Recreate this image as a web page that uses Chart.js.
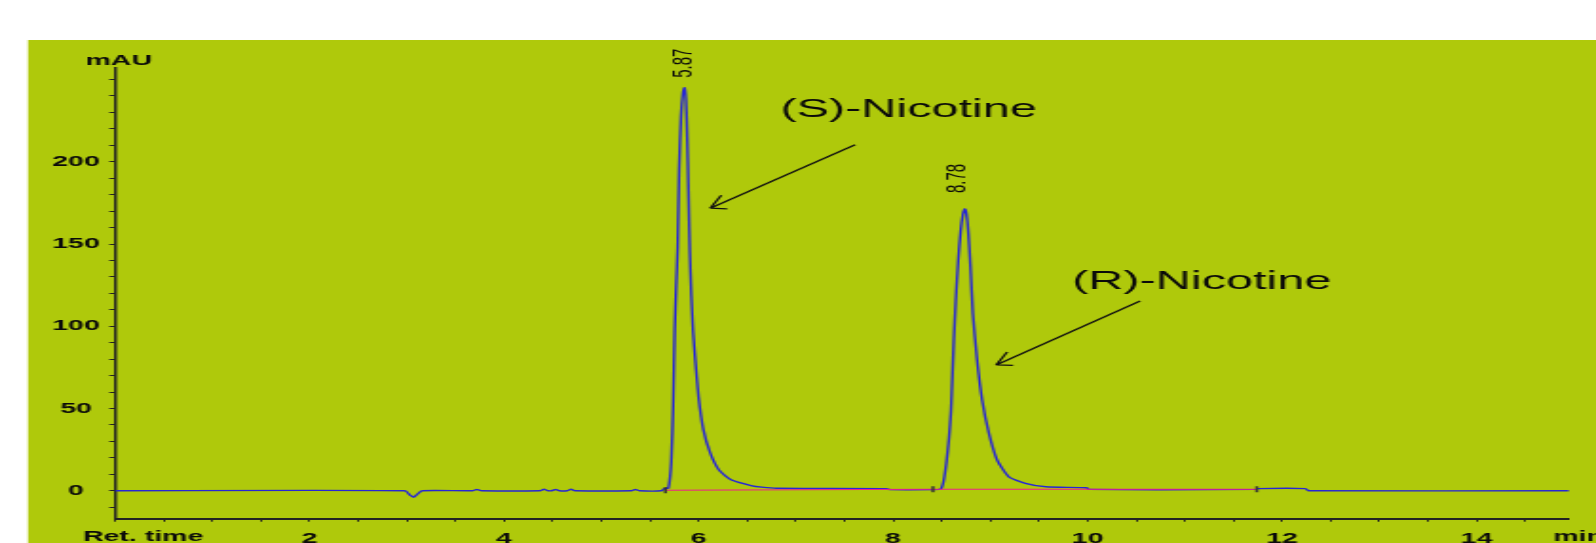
<!DOCTYPE html>
<html>
<head>
<meta charset="utf-8">
<title>Chiral HPLC chromatogram of nicotine</title>
<script src="https://cdn.jsdelivr.net/npm/chart.js@4.4.1/dist/chart.umd.min.js"></script>
<style>
  html, body { margin: 0; padding: 0; background: #fff; overflow: hidden; }
  /* the original trace is a widened screenshot, so draw narrow and stretch */
  #wrap { position: absolute; left: 0; top: 0; width: 840px; height: 543px; transform: scaleX(1.9); transform-origin: 0 0; }
</style>
</head>
<body>
<div id="wrap"><canvas id="chromChart" width="840" height="543"></canvas></div>
<script>
const STRETCH = 1.9;

// detector trace (min, mAU)
const retTimes = [0, 2.98, 3.03, 3.07, 3.11, 3.16, 3.68, 3.72, 3.77, 4.37, 4.41, 4.45, 4.49, 4.53, 4.57,
    4.65, 4.69, 4.73, 5.31, 5.35, 5.39, 5.62, 5.65, 5.69, 5.72, 5.74, 5.755, 5.77, 5.785, 5.80, 5.82,
    5.84, 5.856, 5.87, 5.88, 5.89, 5.9, 5.91, 5.925, 5.945, 5.966, 6.0, 6.05, 6.12, 6.21, 6.34, 6.55,
    6.65, 6.8, 7.93, 7.97, 8.41, 8.49, 8.52, 8.55, 8.575, 8.595, 8.61, 8.625, 8.645, 8.67, 8.695,
    8.718, 8.738, 8.755, 8.775, 8.796, 8.82, 8.864, 8.916, 8.985, 9.07, 9.19, 9.36, 9.57, 9.99, 10.01,
    11.74, 11.75, 12.24, 12.27, 14.95];
const signal = [0, 0, -2.5, -4, -2, 0, 0, 0.8, 0, 0, 0.9, 0, 0, 0.8, 0,
    0, 0.9, 0, 0, 0.8, 0, 0, 1.5, 1.5, 18, 53, 98, 124, 148, 195, 228,
    242, 245, 238, 222, 200, 172, 146, 120, 96, 80, 57, 37, 23, 12.6, 6.5, 3,
    2.2, 1.5, 1.3, 0.7, 0.7, 1, 6, 18, 32, 48, 70, 92, 116, 140, 158,
    168, 171.5, 168, 156, 136, 108, 79.5, 55, 35, 18.7, 8.5, 4.5, 2.4, 1.8, 0.8,
    0.8, 1.3, 1.3, 0, 0];

// integration baseline and its marks
const baseTimes = [5.66, 8.41, 11.74];
const baseSignal = [0.3, 0.9, 0.9];

// peak annotations
const peakRT = ['5.87', '8.78'];
const peakRTx = [5.846, 8.655];
const peakRTy = [251, 181];
const peakNames = ['(S)-Nicotine', '(R)-Nicotine'];
const nameX = [6.84, 9.84];
const nameY = [227, 122.5];
const arrowFrom = [[7.61, 210.3], [10.54, 115.4]];
const arrowTo = [[6.12, 171.8], [9.06, 76.5]];

const FONT = '"Liberation Sans", Arial, sans-serif';

function drawArrow(ctx, x0, y0, x1, y1) {
    // barbs worked out in the stretched (on-screen) space
    const X0 = x0 * STRETCH, X1 = x1 * STRETCH;
    const a = Math.atan2(y0 - y1, X0 - X1);
    const len = 17;
    ctx.beginPath();
    ctx.moveTo(x0, y0);
    ctx.lineTo(x1, y1);
    [0.45, -0.45].forEach(d => {
        ctx.moveTo(x1, y1);
        ctx.lineTo((X1 + len * Math.cos(a + d)) / STRETCH, y1 + len * Math.sin(a + d));
    });
    ctx.stroke();
}

const decorations = {
    id: 'decorations',
    beforeDraw(chart) {
        const ctx = chart.ctx;
        ctx.save();
        ctx.fillStyle = '#afc90b';
        ctx.fillRect(28 / STRETCH, 40, chart.width, chart.height);
        ctx.restore();
    },
    afterDraw(chart) {
        const { ctx, chartArea, scales: { x, y } } = chart;
        ctx.save();
        ctx.fillStyle = '#0a0a0a';
        ctx.font = 'bold 15px ' + FONT;
        ctx.textBaseline = 'alphabetic';
        ctx.textAlign = 'center';
        ctx.fillText('mAU', chartArea.left + 2, chartArea.top - 3);
        ctx.fillText('Ret. time', 75.3, 541);
        ctx.textAlign = 'left';
        ctx.fillText('min', chartArea.right - 8.4, 541);

        // retention time over each peak
        ctx.font = '15px ' + FONT;
        ctx.textBaseline = 'middle';
        peakRT.forEach((txt, i) => {
            ctx.save();
            ctx.translate(x.getPixelForValue(peakRTx[i]), y.getPixelForValue(peakRTy[i]));
            ctx.rotate(-Math.PI / 2);
            ctx.fillText(txt, 0, 0);
            ctx.restore();
        });

        // compound names with arrows
        ctx.font = '25.6px ' + FONT;
        ctx.textBaseline = 'alphabetic';
        ctx.strokeStyle = '#111';
        ctx.lineWidth = 1.3;
        peakNames.forEach((txt, i) => {
            ctx.fillText(txt, x.getPixelForValue(nameX[i]), y.getPixelForValue(nameY[i]));
            drawArrow(ctx,
                x.getPixelForValue(arrowFrom[i][0]), y.getPixelForValue(arrowFrom[i][1]),
                x.getPixelForValue(arrowTo[i][0]), y.getPixelForValue(arrowTo[i][1]));
        });
        ctx.restore();
    }
};

const traceData = retTimes.map((t, i) => ({ x: t, y: signal[i] }));
const baseData = baseTimes.map((t, i) => ({ x: t, y: baseSignal[i] }));

const ctx = document.getElementById('chromChart').getContext('2d');
const chart = new Chart(ctx, {
    type: 'line',
    data: {
        datasets: [{
            label: 'marks',
            data: baseData,
            showLine: false,
            pointStyle: 'line',
            rotation: 90,
            pointRadius: 3,
            borderColor: '#333',
            borderWidth: 1.5
        }, {
            label: 'baseline',
            data: baseData,
            borderColor: '#f0208c',
            borderWidth: 1.1,
            pointRadius: 0,
            tension: 0
        }, {
            label: 'signal',
            data: traceData,
            borderColor: '#2626d6',
            borderWidth: 1.4,
            pointRadius: 0,
            tension: 0.2
        }]
    },
    options: {
        responsive: false,
        animation: false,
        layout: { padding: { left: 0, right: 14.2, top: 68, bottom: 0 } },
        plugins: { legend: { display: false }, tooltip: { enabled: false } },
        scales: {
            x: {
                type: 'linear',
                min: 0,
                max: 14.95,
                afterFit(scale) { scale.height = 24.3; },
                border: { display: true, color: '#222', width: 2 },
                grid: { drawOnChartArea: false, drawTicks: true, tickLength: 3, tickColor: '#222', tickWidth: 1 },
                ticks: {
                    stepSize: 0.5,
                    includeBounds: false,
                    autoSkip: false,
                    maxRotation: 0,
                    padding: 8,
                    color: '#0a0a0a',
                    font: { family: FONT, size: 15, weight: 'bold' },
                    callback: v => (v > 0 && Number.isInteger(v) && v % 2 === 0) ? String(v) : ''
                }
            },
            y: {
                min: -17,
                max: 257,
                afterFit(scale) { scale.width = 60.5; },
                border: { display: true, color: '#222', width: 1.5 },
                grid: { drawOnChartArea: false, drawTicks: true, tickLength: 3, tickColor: '#222', tickWidth: 1 },
                ticks: {
                    stepSize: 10,
                    includeBounds: false,
                    autoSkip: false,
                    crossAlign: 'center',
                    padding: 5,
                    color: '#0a0a0a',
                    font: { family: FONT, size: 15, weight: 'bold' },
                    callback: v => (v >= 0 && v <= 200 && v % 50 === 0) ? String(v) : ''
                }
            }
        }
    },
    plugins: [decorations]
});
</script>
</body>
</html>
